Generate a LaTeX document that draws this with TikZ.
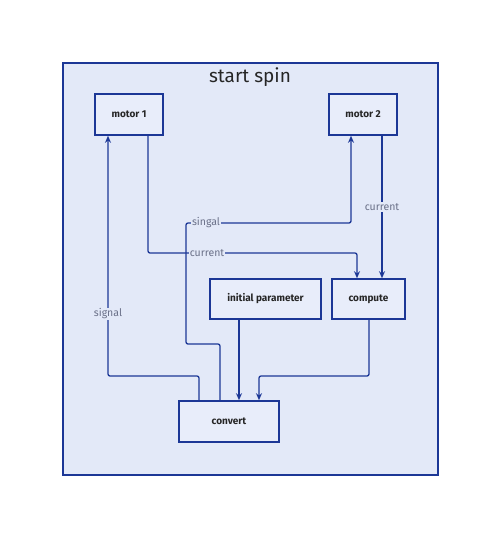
\documentclass[tikz,border=0pt]{standalone}
\usepackage{fontspec}
\setmainfont{Fira Sans}
\usetikzlibrary{arrows.meta}
\definecolor{bgblue}{HTML}{E3E9F8}
\definecolor{nodeblue}{HTML}{E8EDFA}
\definecolor{strokeblue}{HTML}{1C3796}
\definecolor{labelgray}{HTML}{6A7088}
\tikzset{
  box/.style={draw=strokeblue, line width=1.6pt, fill=nodeblue, inner sep=0pt, font=\fontsize{10}{12}\selectfont\bfseries, text=black!85},
  conn/.style={draw=strokeblue, line width=1.3pt, rounded corners=2pt},
  arr/.style={conn, -{Stealth[length=7pt,width=6pt]}},
  elabel/.style={fill=bgblue, text=labelgray, inner sep=1pt, font=\fontsize{10.5}{12}\selectfont}
}
\begin{document}
\begin{tikzpicture}[x=1pt,y=-1pt]
\useasboundingbox (0,0) rectangle (499,536);
\fill[white] (0,0) rectangle (499,536);
\node[draw=strokeblue, line width=1.8pt, fill=bgblue, minimum width=375pt, minimum height=412pt, anchor=north west, inner sep=0pt] (frame) at (62,62) {};
\node[font=\fontsize{19}{22}\selectfont, text=black!85] (title) at (250,77) {start spin};
\node[box, minimum width=68pt, minimum height=41pt] (m1) at (129,114.5) {motor 1};
\node[box, minimum width=68pt, minimum height=41pt] (m2) at (363,114.5) {motor 2};
\node[box, minimum width=111pt, minimum height=40pt] (ip) at (265.5,299) {initial parameter};
\node[box, minimum width=73pt, minimum height=40pt] (cp) at (368.5,299) {compute};
\node[box, minimum width=100pt, minimum height=41pt] (cv) at (229,421.5) {convert};
% convert -> motor 1
\coordinate (a1) at (199,376);
\coordinate (a2) at (108,376);
\draw[arr] (cv.north -| a1) -- (a1) -- (a2) -- (m1.south -| a2) ;
\node[elabel] (lsig) at (108,314) {signal};
% motor 1 -> compute
\coordinate (b1) at (148,253);
\coordinate (b2) at (357,253);
\draw[arr] (m1.south -| b1) -- (b1) -- (b2) -- (cp.north -| b2);
\node[elabel] (lcur1) at (207,253) {current};
% convert -> motor 2
\coordinate (c1) at (220,344);
\coordinate (c2) at (186,344);
\coordinate (c3) at (186,223);
\coordinate (c4) at (351,223);
\draw[arr] (cv.north -| c1) -- (c1) -- (c2) -- (c3) -- (c4) -- (m2.south -| c4);
\node[elabel] (lsing) at (206,223) {singal};
% motor 2 -> compute
\coordinate (d1) at (382,200);
\draw[arr] (m2.south -| d1) -- (cp.north -| d1);
\node[elabel] (lcur2) at (382,207) {current};
% initial parameter -> convert
\coordinate (e1) at (239,300);
\draw[arr] (ip.south -| e1) -- (cv.north -| e1);
% compute -> convert
\coordinate (f1) at (369,376);
\coordinate (f2) at (259,376);
\draw[arr] (cp.south -| f1) -- (f1) -- (f2) -- (cv.north -| f2);
\end{tikzpicture}
\end{document}
